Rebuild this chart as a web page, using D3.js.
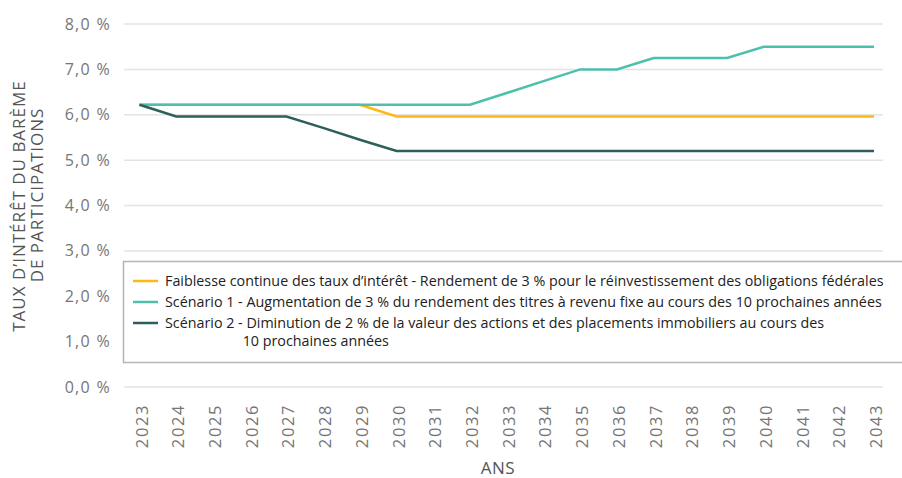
<!DOCTYPE html>
<html>
<head>
<meta charset="utf-8">
<script src="https://cdn.jsdelivr.net/npm/d3@7"></script>
<style>
  body { margin: 0; background: #fff; }
  svg { font-family: "Open Sans", sans-serif; }
</style>
</head>
<body>
<svg id="stage" width="902" height="478"></svg>
<script>
// Chart data
const years = d3.range(2023, 2044).map(String);
const faiblesse = [6.22, 6.22, 6.22, 6.22, 6.22, 6.22, 6.22, 5.96, 5.96, 5.96, 5.96, 5.96, 5.96, 5.96, 5.96, 5.96, 5.96, 5.96, 5.96, 5.96, 5.96];
const scenario1 = [6.22, 6.22, 6.22, 6.22, 6.22, 6.22, 6.22, 6.22, 6.22, 6.22, 6.48, 6.74, 7.0, 7.0, 7.25, 7.25, 7.25, 7.5, 7.5, 7.5, 7.5];
const scenario2 = [6.22, 5.96, 5.96, 5.96, 5.96, 5.71, 5.45, 5.2, 5.2, 5.2, 5.2, 5.2, 5.2, 5.2, 5.2, 5.2, 5.2, 5.2, 5.2, 5.2, 5.2];
const yTicks = [0, 1, 2, 3, 4, 5, 6, 7, 8];

const series = [
  { name: "Faiblesse continue des taux d’intérêt - Rendement de 3 % pour le réinvestissement des obligations fédérales", values: faiblesse, color: "#fdb913" },
  { name: "Scénario 1 - Augmentation de 3 % du rendement des titres à revenu fixe au cours des 10 prochaines années", values: scenario1, color: "#4cc0ad" },
  { name: "Scénario 2 - Diminution de 2 % de la valeur des actions et des placements immobiliers au cours des", cont: "10 prochaines années", prefix: "Scénario 2 - ", values: scenario2, color: "#2d5f5b" },
];

const svg = d3.select("#stage");

const x = d3.scalePoint().domain(years).range([139.5, 874]);
const y = d3.scaleLinear().domain([0, 8]).range([387, 24]);

// gridlines
svg.append("g")
  .selectAll("line")
  .data(yTicks)
  .enter()
  .append("line")
  .attr("x1", 124)
  .attr("x2", 883)
  .attr("y1", (d) => y(d))
  .attr("y2", (d) => y(d))
  .attr("stroke", "#e3e3e3")
  .attr("stroke-width", 1.5);

// y tick labels
svg.append("g")
  .selectAll("text")
  .data(yTicks)
  .enter()
  .append("text")
  .attr("x", 111)
  .attr("y", (d) => y(d) + 5.5)
  .attr("text-anchor", "end")
  .attr("fill", "#767676")
  .attr("font-size", 16)
  .attr("letter-spacing", 1.3)
  .text((d) => d3.format(".1f")(d).replace(".", ",") + " %");

// x tick labels
svg.append("g")
  .selectAll("text")
  .data(years)
  .enter()
  .append("text")
  .attr("transform", (d) => `translate(${x(d) + 8}, 404) rotate(-90)`)
  .attr("text-anchor", "end")
  .attr("fill", "#767676")
  .attr("font-size", 16.5)
  .attr("letter-spacing", 1.6)
  .text((d) => d);

// axis titles
svg.append("text")
  .attr("x", 498)
  .attr("y", 474)
  .attr("text-anchor", "middle")
  .attr("fill", "#555")
  .attr("font-size", 17)
  .attr("letter-spacing", 0.5)
  .text("ANS");

svg.append("text")
  .attr("transform", "translate(25, 206) rotate(-90)")
  .attr("text-anchor", "middle")
  .attr("fill", "#555")
  .attr("font-size", 17)
  .attr("letter-spacing", 1)
  .text("TAUX D’INTÉRÊT DU BARÈME");
svg.append("text")
  .attr("transform", "translate(43, 195) rotate(-90)")
  .attr("text-anchor", "middle")
  .attr("fill", "#555")
  .attr("font-size", 17)
  .attr("letter-spacing", 1)
  .text("DE PARTICIPATIONS");

// lines
const line = d3.line()
  .x((d, i) => x(years[i]))
  .y((d) => y(d));

svg.append("g")
  .selectAll("path")
  .data(series)
  .enter()
  .append("path")
  .attr("d", (d) => line(d.values))
  .attr("fill", "none")
  .attr("stroke", (d) => d.color)
  .attr("stroke-width", 2.5);

// legend
svg.append("rect")
  .attr("x", 123.5)
  .attr("y", 261.5)
  .attr("width", 790)
  .attr("height", 101)
  .attr("fill", "#fff")
  .attr("stroke", "#b5b5b5")
  .attr("stroke-width", 1.5);

const legendRows = svg.append("g")
  .selectAll("g")
  .data(series)
  .enter()
  .append("g")
  .attr("transform", (d, i) => `translate(133, ${281 + i * 21})`);

legendRows.append("line")
  .attr("x1", 0)
  .attr("x2", 25)
  .attr("stroke", (d) => d.color)
  .attr("stroke-width", 2.5);

legendRows.append("text")
  .attr("x", 32)
  .attr("y", 5)
  .attr("fill", "#222")
  .attr("font-size", 14.3)
  .text((d) => d.name);

// second line of the wrapped entry, indented under the text after the prefix
legendRows.filter((d) => d.cont).each(function (d) {
  const g = d3.select(this);
  const probe = g.append("text").attr("font-size", 14.3).text(d.prefix);
  const indent = probe.node().getComputedTextLength();
  probe.remove();
  g.append("text")
    .attr("x", 32 + indent)
    .attr("y", 23)
    .attr("fill", "#222")
    .attr("font-size", 14.3)
    .text(d.cont);
});
</script>
</body>
</html>
